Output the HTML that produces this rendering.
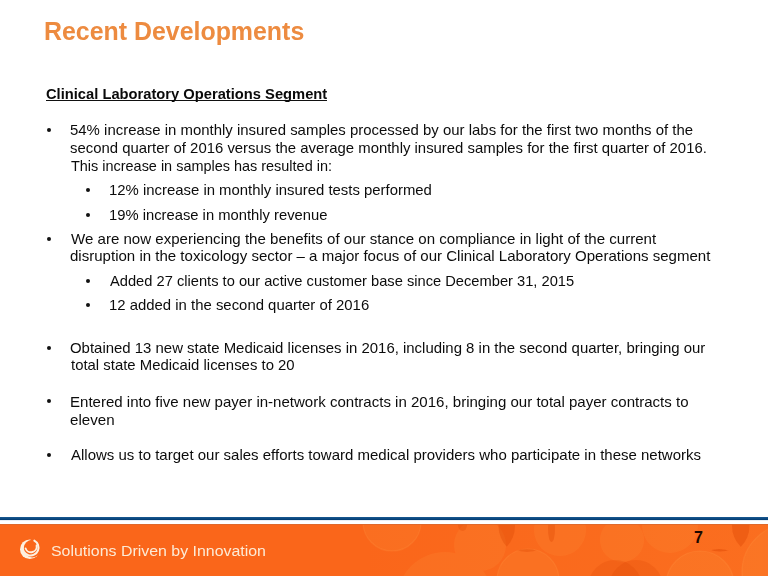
<!DOCTYPE html>
<html><head><meta charset="utf-8"><title>Recent Developments</title>
<style>
html,body{margin:0;padding:0}
body{width:768px;height:576px;position:relative;overflow:hidden;background:#fff;font-family:"Liberation Sans",Arial,sans-serif}
.ln{position:absolute;z-index:2;white-space:nowrap;transform-origin:0 0;font-family:"Liberation Sans",Arial,sans-serif}
.b{color:#0c0c0c;font-weight:400}
.title{color:#ED8B40;font-weight:700}
.sub{color:#0a0a0a;font-weight:700}
.foot{color:#FCEBD6;font-weight:400}
.bu{position:absolute;border-radius:50%;background:#111}
.ul{position:absolute;left:46px;top:100px;width:281px;height:1.2px;background:#111}
</style></head><body>
<div class="ln b" style="left:69.97px;top:122.73px;font-size:14.5px;line-height:14.5px;transform:scaleX(1.0307)">54% increase in monthly insured samples processed by our labs for the first two months of the</div>
<div class="ln b" style="left:69.97px;top:140.73px;font-size:14.5px;line-height:14.5px;transform:scaleX(1.0275)">second quarter of 2016 versus the average monthly insured samples for the first quarter of 2016.</div>
<div class="ln b" style="left:71.00px;top:158.73px;font-size:14.5px;line-height:14.5px;transform:scaleX(0.9962)">This increase in samples has resulted in:</div>
<div class="ln b" style="left:108.97px;top:182.73px;font-size:14.5px;line-height:14.5px;transform:scaleX(1.0272)">12% increase in monthly insured tests performed</div>
<div class="ln b" style="left:108.98px;top:207.73px;font-size:14.5px;line-height:14.5px;transform:scaleX(1.0188)">19% increase in monthly revenue</div>
<div class="ln b" style="left:71.00px;top:231.73px;font-size:14.5px;line-height:14.5px;transform:scaleX(1.0391)">We are now experiencing the benefits of our stance on compliance in light of the current</div>
<div class="ln b" style="left:69.96px;top:248.73px;font-size:14.5px;line-height:14.5px;transform:scaleX(1.0373)">disruption in the toxicology sector – a major focus of our Clinical Laboratory Operations segment</div>
<div class="ln b" style="left:110.00px;top:273.73px;font-size:14.5px;line-height:14.5px;transform:scaleX(1.0120)">Added 27 clients to our active customer base since December 31, 2015</div>
<div class="ln b" style="left:108.97px;top:297.73px;font-size:14.5px;line-height:14.5px;transform:scaleX(1.0278)">12 added in the second quarter of 2016</div>
<div class="ln b" style="left:69.97px;top:340.73px;font-size:14.5px;line-height:14.5px;transform:scaleX(1.0302)">Obtained 13 new state Medicaid licenses in 2016, including 8 in the second quarter, bringing our</div>
<div class="ln b" style="left:71.00px;top:357.73px;font-size:14.5px;line-height:14.5px;transform:scaleX(1.0276)">total state Medicaid licenses to 20</div>
<div class="ln b" style="left:69.96px;top:394.73px;font-size:14.5px;line-height:14.5px;transform:scaleX(1.0370)">Entered into five new payer in-network contracts in 2016, bringing our total payer contracts to</div>
<div class="ln b" style="left:69.96px;top:412.73px;font-size:14.5px;line-height:14.5px;transform:scaleX(1.0427)">eleven</div>
<div class="ln b" style="left:71.00px;top:447.73px;font-size:14.5px;line-height:14.5px;transform:scaleX(1.0345)">Allows us to target our sales efforts toward medical providers who participate in these networks</div>
<div class="ln title" style="left:44.04px;top:19.00px;font-size:25.4px;line-height:25.4px;transform:scaleX(0.9810)">Recent Developments</div>
<div class="ln sub" style="left:45.96px;top:86.73px;font-size:14.2px;line-height:14.2px;transform:scaleX(1.0370)">Clinical Laboratory Operations Segment</div>
<div class="ln foot" style="left:50.97px;top:542.96px;font-size:15.4px;line-height:15.4px;transform:scaleX(1.0340)">Solutions Driven by Innovation</div>
<div class="ul"></div>
<div class="bu" style="left:47px;top:128px;width:4px;height:4px"></div>
<div class="bu" style="left:86px;top:188px;width:4px;height:4px"></div>
<div class="bu" style="left:86px;top:213px;width:4px;height:4px"></div>
<div class="bu" style="left:47px;top:237px;width:4px;height:4px"></div>
<div class="bu" style="left:86px;top:279px;width:4px;height:4px"></div>
<div class="bu" style="left:86px;top:303px;width:4px;height:4px"></div>
<div class="bu" style="left:47px;top:346px;width:4px;height:4px"></div>
<div class="bu" style="left:47px;top:399px;width:4px;height:4px"></div>
<div class="bu" style="left:47px;top:453px;width:4px;height:4px"></div>
<div style="position:absolute;left:0;top:517px;width:768px;height:3px;background:linear-gradient(#1a5a92,#003a70)"></div>
<div style="position:absolute;left:0;top:520px;width:768px;height:1px;background:#e8eef4"></div>
<div style="position:absolute;left:0;top:524px;width:768px;height:52px;background:#FA661A;overflow:hidden;border-top:0">
<svg width="768" height="52" viewBox="0 524 768 52" style="position:absolute;left:0;top:0">
<defs>
<linearGradient id="lg" x1="0" x2="1" y1="0" y2="0"><stop offset="0" stop-color="#FFA040" stop-opacity="0"/><stop offset="1" stop-color="#FFA040" stop-opacity="0.14"/></linearGradient>
<clipPath id="cA"><circle cx="485" cy="526" r="30"/></clipPath>
<clipPath id="cT"><circle cx="527" cy="520" r="32"/></clipPath>
<clipPath id="cR"><circle cx="720" cy="526" r="29.5"/></clipPath>
<clipPath id="cR2"><circle cx="720" cy="522" r="29.5"/></clipPath>
</defs>
<rect x="360" y="524" width="408" height="52" fill="url(#lg)"/>
<g fill="#FFA64A" opacity="0.13">
<circle cx="392" cy="522" r="29"/>
<circle cx="480" cy="545" r="26"/>
<circle cx="528" cy="580" r="31"/>
<circle cx="560" cy="530" r="26"/>
<circle cx="622" cy="540" r="22"/>
<circle cx="670" cy="525" r="28"/>
<circle cx="700" cy="585" r="34"/>
<circle cx="790" cy="572" r="48"/>
<circle cx="445" cy="600" r="48"/>
</g>
<g fill="none" stroke="#FFAE5A" stroke-width="1.2" opacity="0.15">
<circle cx="392" cy="522" r="29"/>
<circle cx="528" cy="580" r="31"/>
<circle cx="700" cy="585" r="34"/>
<circle cx="790" cy="572" r="48"/>
</g>
<g fill="#D94300">
<circle cx="528.5" cy="526" r="30" clip-path="url(#cA)" opacity="0.32"/>
<circle cx="527" cy="580" r="31" clip-path="url(#cT)" opacity="0.3"/>
<circle cx="761" cy="526" r="29" clip-path="url(#cR)" opacity="0.35"/>
<circle cx="719" cy="582" r="33" clip-path="url(#cR2)" opacity="0.42"/>
<ellipse cx="551.5" cy="529" rx="3.5" ry="13" opacity="0.3"/>
<ellipse cx="462.5" cy="525" rx="4.5" ry="6" opacity="0.25"/>
<circle cx="615" cy="587" r="27" opacity="0.2"/>
<circle cx="636" cy="587" r="27" opacity="0.2"/>
</g>
</svg>
<div style="position:absolute;left:0;top:0;width:768px;height:1px;background:#D9692E;opacity:.85"></div>
</div>
<svg width="28" height="28" viewBox="16 536 28 28" style="position:absolute;left:16px;top:536px">
<defs><mask id="lm"><rect x="16" y="536" width="28" height="28" fill="#fff"/><circle cx="32.3" cy="548.6" r="8.8" fill="#000"/><polygon points="29.80,549.30 31.26,535.38 32.71,535.61 34.13,535.99 35.49,536.51 36.80,537.18 38.03,537.97 39.17,538.90 40.20,539.93 41.13,541.07 41.92,542.30 42.59,543.61 43.11,544.97 43.49,546.39 43.72,547.84 43.80,549.30 43.72,550.76 43.49,552.21 43.11,553.63 42.59,554.99" fill="#000"/></mask></defs>
<circle cx="29.8" cy="549.3" r="9.8" fill="#FDF0E0" mask="url(#lm)"/>
<g fill="none" stroke="#FDF0E0" stroke-linecap="round">
<path d="M34.31 540.62 A7.9 7.9 0 1 1 22.82 546.23" stroke-width="2.0"/>
<path d="M36.61 545.51 A5.7 5.7 0 0 1 25.64 548.45" stroke-width="1.9"/>
</g>
</svg>
<div style="position:absolute;z-index:3;left:694px;top:530px;font:bold 16px 'Liberation Sans',sans-serif;color:#1a0800;line-height:16px">7</div>

</body></html>
